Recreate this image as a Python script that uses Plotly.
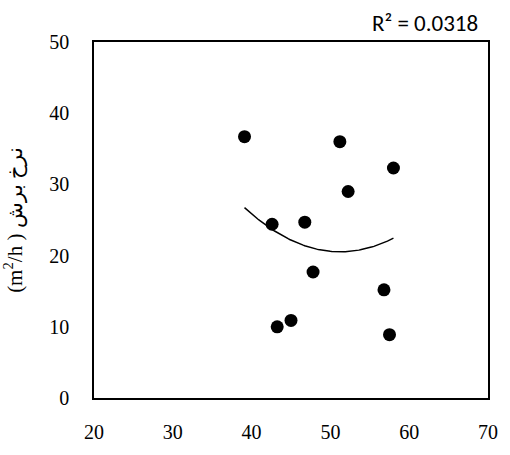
import numpy as np
import plotly.graph_objects as go

x_vals = [39.1, 51.2, 58.0, 52.25, 42.6, 46.75, 47.8, 56.8, 45.0, 43.25, 57.5]
y_vals = [36.7, 36.0, 32.3, 29.0, 24.4, 24.7, 17.7, 15.2, 10.9, 10.0, 8.9]
x_ticks = [20, 30, 40, 50, 60, 70]
y_ticks = [0, 10, 20, 30, 40, 50]
r2_label = "R² = 0.0318"
y_title = "(m<sup>2</sup>/h ) نرخ برش"

coef = np.polyfit(x_vals, y_vals, 2)
xt = np.linspace(min(x_vals), max(x_vals), 100)
yt = np.polyval(coef, xt)

serif = "Times New Roman, Liberation Serif, DejaVu Serif, serif"

fig = go.Figure()
fig.add_trace(go.Scatter(x=xt, y=yt, mode="lines",
                         line=dict(color="black", width=1.5), showlegend=False))
fig.add_trace(go.Scatter(x=x_vals, y=y_vals, mode="markers",
                         marker=dict(color="black", size=13), showlegend=False))

axis_font = dict(family=serif, size=20, color="black")
fig.update_layout(
    width=510, height=455,
    margin=dict(l=94, r=16, t=42, b=40),
    paper_bgcolor="white", plot_bgcolor="white",
    font=dict(family=serif, size=20, color="black"),
    xaxis=dict(range=[20, 70], tickvals=x_ticks, showgrid=False, zeroline=False,
               showline=True, linecolor="black", linewidth=1.5, mirror=True,
               ticks="", tickfont=axis_font, ticklabelstandoff=15),
    yaxis=dict(range=[0, 50], tickvals=y_ticks, showgrid=False, zeroline=False,
               showline=True, linecolor="black", linewidth=1.5, mirror=True,
               ticks="", tickfont=axis_font, ticklabelstandoff=19,
               title=dict(text=y_title, font=dict(family=serif, size=21, color="black"),
                          standoff=22)),
    annotations=[dict(text=r2_label, xref="paper", yref="paper", x=0.98, y=1.0,
                      xanchor="right", yanchor="bottom", showarrow=False, yshift=3,
                      font=dict(family="Carlito, Liberation Sans, sans-serif", size=23, color="black"))],
)
fig.write_html("out.html")
